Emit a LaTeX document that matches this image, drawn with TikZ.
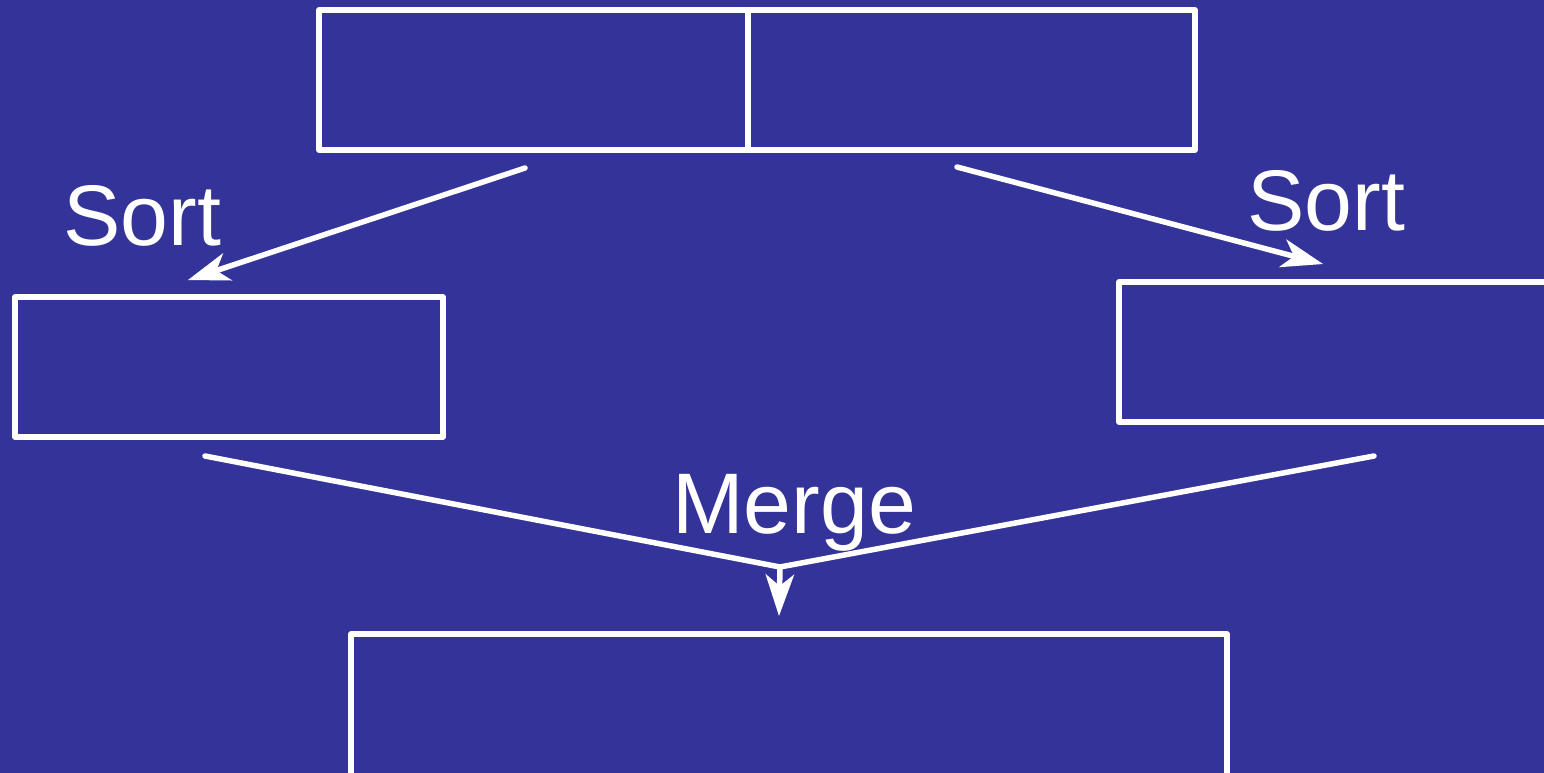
\documentclass[tikz,border=0pt]{standalone}
\usepackage{fontspec}
\setmainfont{Liberation Sans}
\usetikzlibrary{arrows.meta}
\definecolor{slidebg}{HTML}{333399}
\begin{document}
\begin{tikzpicture}[x=1pt,y=-1pt,
  box/.style={draw=white,line width=5.5pt,line join=round,inner sep=0pt,outer sep=0pt,anchor=north west},
  flow/.style={draw=white,line width=5.5pt,line cap=round,
    -{Stealth[length=42pt,width=29pt,inset=12pt,line width=0pt]}},
  wire/.style={draw=white,line width=5.5pt,line cap=round,line join=miter},
  lbl/.style={text=white,inner sep=0pt,anchor=base west,font=\fontsize{86}{86}\selectfont}]
  \fill[slidebg] (0,0) rectangle (1544,773);
  \useasboundingbox (0,0) rectangle (1544,773);
  \begin{scope}
    \clip (0,0) rectangle (1544,773);
    % array split into two halves
    \node[box,minimum width=429pt,minimum height=140pt] (topL) at (319,10) {};
    \node[box,minimum width=447pt,minimum height=140pt] (topR) at (748,10) {};
    % the two sorted halves
    \node[box,minimum width=428pt,minimum height=140pt] (sortL) at (15,297) {};
    \node[box,minimum width=432pt,minimum height=140pt] (sortR) at (1119,282) {};
    % merged result
    \node[box,minimum width=876pt,minimum height=142pt] (merged) at (351,634) {};
  \end{scope}
  % divider between the halves, slightly overshooting the frame
  \draw[wire] ([yshift=-4pt]topR.north west) -- ([yshift=4pt]topR.south west);
  % arrow end points
  \coordinate (aL0) at (525,168);
  \coordinate (aL1) at (188,280);
  \coordinate (aR0) at (957,167);
  \coordinate (aR1) at (1323,264);
  \coordinate (mL) at (205,456);
  \coordinate (mR) at (1374,456);
  \coordinate (join) at (780,567);
  \coordinate (mEnd) at (779,616);
  \draw[flow] (aL0) -- (aL1);
  \draw[flow] (aR0) -- (aR1);
  \draw[wire] (mL) -- (join) -- (mR);
  \draw[flow] (join) -- (mEnd);
  % labels
  \node[lbl] (sortLabelL) at (63,245) {Sort};
  \node[lbl] (sortLabelR) at (1247,230) {Sort};
  \node[lbl] (mergeLabel) at (672,533) {Merge};
\end{tikzpicture}
\end{document}
